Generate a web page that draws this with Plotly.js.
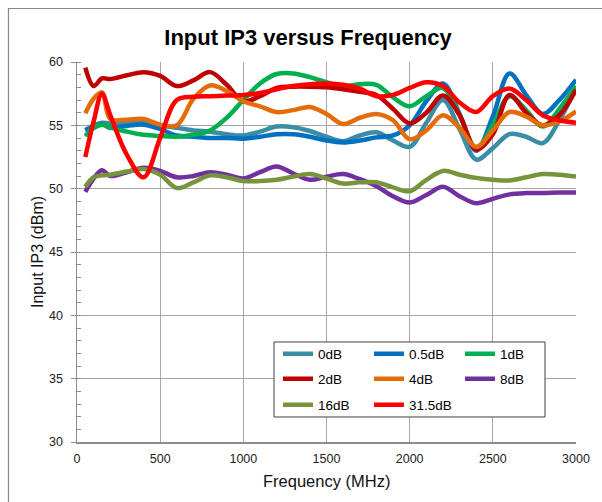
<!DOCTYPE html>
<html>
<head>
<meta charset="utf-8">
<script src="https://cdn.plot.ly/plotly-3.0.1.min.js"></script>
<style>html,body{margin:0;padding:0;background:#fff;}#chart{width:602px;height:502px;}</style>
</head>
<body>
<div id="chart"></div>
<script>
var freqMHz = [50,100,150,200,300,400,500,600,700,800,900,1000,1100,1200,1300,1400,1500,1600,1700,1800,1900,2000,2100,2200,2300,2400,2500,2600,2700,2800,2900,3000];

var seriesNames = ["0dB","0.5dB","1dB","2dB","4dB","8dB","16dB","31.5dB"];

var ip3_0dB   = [54.6,55.0,55.2,55.15,55.2,55.25,55.0,54.8,54.6,54.5,54.3,54.2,54.5,54.9,54.85,54.55,54.1,53.75,54.2,54.45,53.8,53.3,55.2,57.0,54.7,52.3,53.2,54.3,54.1,53.6,55.4,58.0];
var ip3_05dB  = [54.65,54.8,55.1,54.8,54.95,55.05,54.7,54.2,54.1,54.0,54.0,53.95,54.1,54.3,54.3,54.1,53.8,53.65,53.8,54.05,54.2,55.0,56.9,58.3,55.9,53.0,55.7,59.1,57.4,55.9,57.0,58.6];
var ip3_1dB   = [54.15,54.8,55.05,54.85,54.5,54.25,54.15,54.1,54.25,54.6,55.6,57.0,58.3,59.05,59.1,58.8,58.4,58.1,58.25,58.2,57.2,56.5,57.3,57.95,55.8,53.2,55.0,57.3,56.2,54.9,56.3,58.1];
var ip3_2dB   = [59.55,58.1,58.7,58.65,58.95,59.2,58.9,58.1,58.55,59.2,58.2,56.9,57.3,57.95,58.05,58.05,58.0,57.85,57.65,57.4,56.3,55.15,56.0,57.35,55.8,53.1,54.3,57.4,56.0,55.0,55.8,57.8];
var ip3_4dB   = [55.95,57.1,57.6,55.5,55.45,55.5,55.05,55.0,57.1,58.15,57.7,56.9,56.5,56.05,56.2,56.45,55.9,55.1,55.6,55.9,55.4,53.9,54.6,55.8,54.8,53.3,54.6,56.05,55.7,55.0,55.3,56.1];
var ip3_8dB   = [49.75,50.8,51.45,51.0,51.3,51.65,51.4,50.9,51.0,51.3,51.1,50.8,51.3,51.75,51.2,50.7,50.95,51.15,50.75,50.2,49.4,48.9,49.5,50.15,49.4,48.85,49.2,49.55,49.65,49.65,49.7,49.7];
var ip3_16dB  = [50.15,50.9,51.05,51.1,51.35,51.55,51.1,50.05,50.5,51.05,50.9,50.6,50.6,50.7,50.95,51.15,50.8,50.4,50.5,50.5,50.1,49.8,50.7,51.4,51.1,50.85,50.7,50.65,50.9,51.15,51.1,50.95];
var ip3_315dB = [52.5,55.3,57.5,55.8,52.66,50.9,54.0,57.0,57.25,57.3,57.35,57.4,57.55,57.85,58.1,58.25,58.3,58.2,57.9,57.3,57.4,57.95,58.4,58.1,56.8,56.05,57.3,57.9,57.0,55.8,55.4,55.2];

var seriesValues = [ip3_0dB, ip3_05dB, ip3_1dB, ip3_2dB, ip3_4dB, ip3_8dB, ip3_16dB, ip3_315dB];
var seriesColors = ["#3A8DA5","#0070C0","#00B050","#C00000","#E46C0A","#7030A0","#77933C","#FF0000"];
var legendIds = ["legend","legend","legend","legend2","legend2","legend2","legend3","legend3"];

var xTicks = [0,500,1000,1500,2000,2500,3000];
var yTicks = [30,35,40,45,50,55,60];

var FONT = "Liberation Sans, Arial, sans-serif";

var traces = seriesNames.map(function(name, i){
  return {
    x: freqMHz, y: seriesValues[i], name: name, type: "scatter", mode: "lines",
    line: {color: seriesColors[i], width: 4.5, shape: "spline", smoothing: 1},
    legend: legendIds[i], hoverinfo: "skip"
  };
});

function legendCfg(yc){
  return {
    orientation: "h", x: 0.4028, xanchor: "left", y: yc, yanchor: "middle",
    entrywidth: 46, entrywidthmode: "pixels", bgcolor: "rgba(0,0,0,0)", borderwidth: 0,
    font: {family: FONT, size: 13.5, color: "#000"}, itemwidth: 30, traceorder: "normal"
  };
}

var layout = {
  width: 602, height: 502,
  margin: {l: 77, r: 26, t: 62, b: 60},
  paper_bgcolor: "#fff", plot_bgcolor: "#fff",
  showlegend: true,
  title: {text: "<b>Input IP3 versus Frequency</b>", font: {family: FONT, size: 22, color: "#000"},
          x: 0.5116, xref: "container", xanchor: "center", y: 0.926, yref: "container", yanchor: "middle"},
  xaxis: {
    range: [0, 3000], tickvals: xTicks, ticktext: xTicks.map(String),
    showgrid: true, gridcolor: "#A6A6A6", gridwidth: 1,
    showline: true, linecolor: "#8C8C8C", linewidth: 1.5,
    zeroline: false, ticks: "", ticklabelstandoff: 4,
    tickfont: {family: FONT, size: 12.5, color: "#222"},
    fixedrange: true
  },
  yaxis: {
    range: [30, 60], tickvals: yTicks, ticktext: yTicks.map(String),
    showgrid: true, gridcolor: "#A6A6A6", gridwidth: 1,
    showline: true, linecolor: "#8C8C8C", linewidth: 1.5,
    zeroline: false, ticks: "outside", ticklen: 5, tickcolor: "#8C8C8C", tickwidth: 1,
    ticklabelstandoff: 5,
    minor: {dtick: 1, ticks: "inside", ticklen: 4, tickcolor: "#8C8C8C", showgrid: false},
    tickfont: {family: FONT, size: 12.5, color: "#222"},
    fixedrange: true
  },
  legend: legendCfg(0.2316),
  legend2: legendCfg(0.1658),
  legend3: legendCfg(0.0974),
  shapes: [
    {type: "rect", xref: "paper", yref: "paper", x0: 0.3948, x1: 0.9379, y0: 0.0658, y1: 0.2632,
     line: {color: "#404040", width: 1}, fillcolor: "#fff", layer: "above"},
    {type: "rect", xref: "paper", yref: "paper", x0: -0.1373, x1: 1.08, y0: -0.2, y1: 1.1408,
     line: {color: "#898989", width: 1.2}, fillcolor: "rgba(0,0,0,0)", layer: "above"}
  ],
  annotations: [
    {text: "Frequency (MHz)", xref: "paper", yref: "paper", x: 0.5, y: -0.1026, xanchor: "center", yanchor: "middle",
     showarrow: false, font: {family: FONT, size: 16.5, color: "#111"}},
    {text: "Input IP3 (dBm)", xref: "paper", yref: "paper", x: -0.0802, y: 0.5, xanchor: "center", yanchor: "middle",
     textangle: -90, showarrow: false, font: {family: FONT, size: 16, color: "#111"}}
  ]
};

Plotly.newPlot("chart", traces, layout, {staticPlot: true, displayModeBar: false});
</script>
</body>
</html>
